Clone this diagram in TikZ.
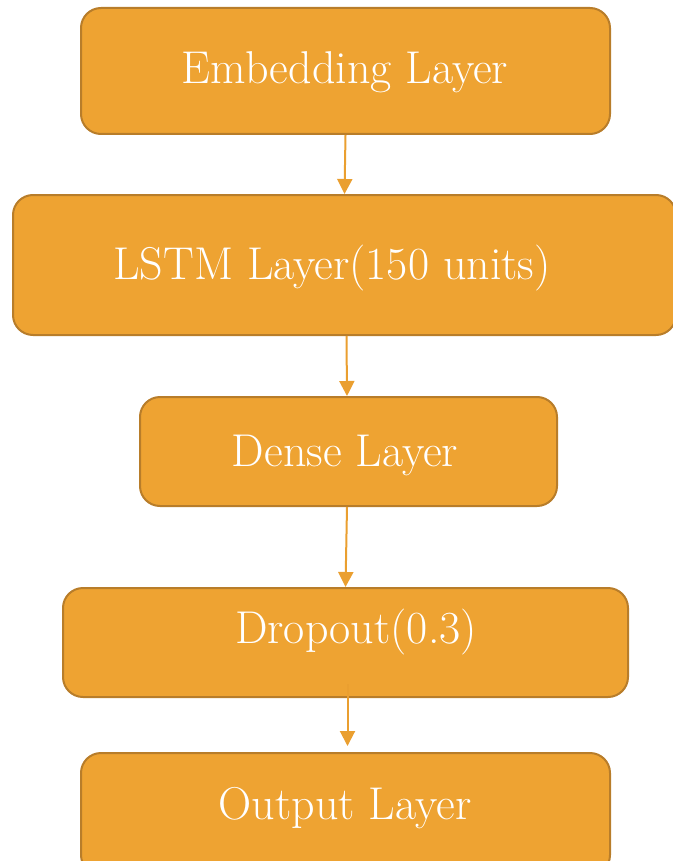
\documentclass[tikz,border=0pt]{standalone}
\usetikzlibrary{arrows.meta,calc}
\definecolor{boxfill}{HTML}{EEA332}
\definecolor{boxline}{HTML}{B87D2A}
\definecolor{arrcol}{HTML}{EA9F30}
\begin{document}
\begin{tikzpicture}[x=1pt,y=-1pt,
  box/.style={draw=boxline,fill=boxfill,line width=2pt,rounded corners=20pt,inner sep=0pt},
  lbl/.style={text=white,font=\fontsize{46}{50}\selectfont,inner sep=0pt},
  arr/.style={draw=arrcol,line width=2pt,-{Triangle[width=15pt,length=15pt]}}]
\useasboundingbox (0,0) rectangle (672,861);
\node[box,minimum width=529pt,minimum height=126pt] (b1) at (345.5,71) {};
\node[box,minimum width=663pt,minimum height=140pt] (b2) at (344.5,265) {};
\node[box,minimum width=417pt,minimum height=109pt] (b3) at (348.5,451.5) {};
\node[box,minimum width=565pt,minimum height=109pt] (b4) at (345.5,642.5) {};
\node[box,minimum width=529pt,minimum height=122pt] (b5) at (345.5,814) {};
\node[lbl] (t1) at (345,72) {Embedding Layer};
\node[lbl] (t2) at (332,268) {LSTM Layer(150 units)};
\node[lbl] (t3) at (345,455) {Dense Layer};
\node[lbl] (t4) at (356,632) {Dropout(0.3)};
\node[lbl] (t5) at (345,808) {Output Layer};
\draw[arr] (b1.south) -- (b2.north);
\draw[arr] ($(b2.south)+(2,0)$) -- ($(b3.north)+(-1.5,0)$);
\draw[arr] ($(b3.south)+(-1.5,0)$) -- ($(b4.north)+(0,0)$);
\draw[arr,shorten >=6pt] ($(b4.south)+(2,-14)$) -- ($(b5.north)+(2,0)$);
\end{tikzpicture}
\end{document}
